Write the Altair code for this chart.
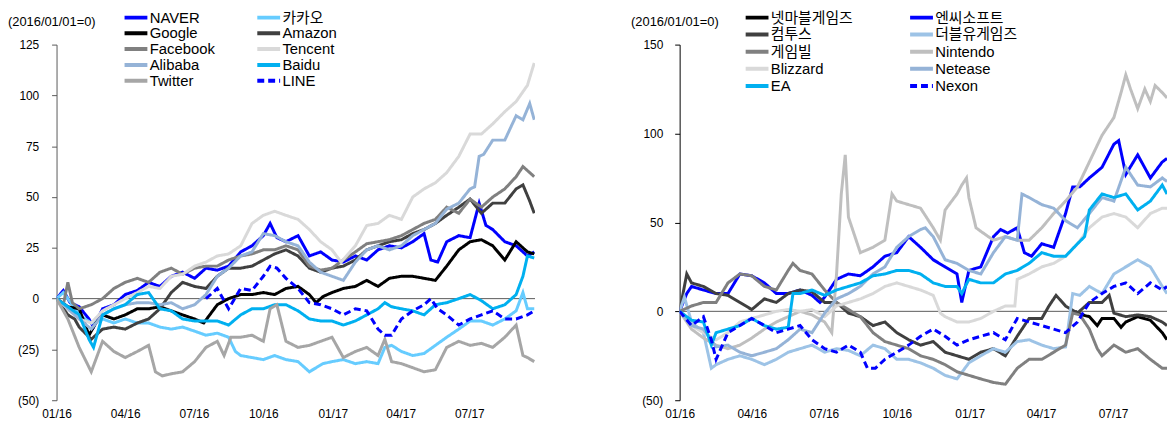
import altair as alt
import pandas as pd

FONT = "'Liberation Sans', Arial, 'Noto Sans CJK KR', sans-serif"
BASE = pd.Timestamp("2016-01-01")

# ---------------- Left panel (internet) : [months since 2016-01-01, index value]
NAVER = [[0,0],[0.3,4],[0.6,-2],[1,-4],[1.4,-10],[1.6,-14],[2,-5],[2.5,-3],[3,2],[3.5,4],[4,8],[4.5,6],[5,11],[5.5,13],[6,10],[6.5,15],[7,14],[7.5,16],[8,23],[8.5,26],[9,31],[9.3,37],[9.6,30],[10,28],[10.5,31],[11,21],[11.5,23],[12,19],[12.5,18],[13,21],[13.5,19],[14,24],[14.5,26],[15,25],[15.5,28],[16,32],[16.3,19],[16.6,18],[17,28],[17.5,31],[18,30],[18.4,47],[18.7,36],[19,34],[19.5,28],[20,26],[20.5,21],[20.8,23]]
KAKAO = [[0,0],[0.3,3],[0.7,-3],[1,-8],[1.5,-12],[2,-10],[2.5,-12],[3,-10],[3.5,-12],[4,-12],[4.5,-14],[5,-15],[5.5,-14],[6,-16],[6.5,-18],[7,-17],[7.5,-19],[7.8,-26],[8,-28],[8.5,-29],[9,-30],[9.5,-28],[10,-30],[10.5,-31],[11,-36],[11.3,-34],[11.6,-32],[12,-31],[12.5,-30],[13,-32],[13.5,-31],[14,-32],[14.3,-24],[14.6,-23],[15,-26],[15.5,-28],[16,-27],[16.5,-23],[17,-19],[17.5,-15],[18,-11],[18.5,-11],[19,-13],[19.5,-10],[20,-6],[20.3,3],[20.5,-5],[20.8,-5]]
GOOGLE = [[0,0],[0.5,-4],[1,-5],[1.4,-18],[1.7,-12],[2,-8],[2.5,-10],[3,-8],[3.5,-5],[4,-5],[4.5,-4],[5,-6],[5.5,-8],[6,-10],[6.4,-12],[7,-3],[7.5,0],[8,2],[8.5,2],[9,3],[9.5,2],[10,5],[10.5,6],[11,2],[11.3,-2],[11.6,1],[12,3],[12.5,5],[13,6],[13.5,9],[14,6],[14.5,10],[15,11],[15.5,11],[16,10],[16.5,9],[17,16],[17.5,24],[18,28],[18.5,29],[19,26],[19.5,19],[20,28],[20.5,23],[20.8,22]]
AMAZON = [[0,0],[0.5,-8],[0.8,-10],[1,-14],[1.5,-20],[2,-15],[2.5,-14],[3,-15],[3.5,-12],[4,-10],[4.5,-5],[5,3],[5.5,8],[6,6],[6.5,5],[7,11],[7.5,15],[8,15],[8.5,16],[9,19],[9.5,22],[10,24],[10.5,21],[11,15],[11.5,13],[12,15],[12.5,16],[13,19],[13.5,24],[14,26],[14.5,28],[15,29],[15.5,32],[16,34],[16.5,37],[17,41],[17.5,45],[18,49],[18.5,42],[19,47],[19.5,47],[20,54],[20.3,56],[20.6,48],[20.8,42]]
FACEBOOK = [[0,0],[0.3,-3],[0.5,8],[0.7,-2],[1,-5],[1.5,-3],[2,0],[2.5,5],[3,8],[3.5,10],[4,8],[4.5,13],[5,15],[5.5,12],[6,15],[6.5,16],[7,16],[7.5,19],[8,21],[8.5,22],[9,24],[9.5,24],[10,26],[10.5,24],[11,16],[11.5,14],[12,15],[12.5,19],[13,23],[13.5,27],[14,28],[14.5,29],[15,31],[15.5,34],[16,37],[16.5,39],[17,45],[17.5,42],[18,49],[18.5,45],[19,50],[19.5,54],[20,60],[20.3,65],[20.6,62],[20.8,60]]
TENCENT = [[0,0],[0.5,-5],[1,-10],[1.5,-12],[2,-6],[2.5,-3],[3,0],[3.5,3],[4,6],[4.5,5],[5,11],[5.5,12],[6,16],[6.5,18],[7,21],[7.5,22],[8,26],[8.5,37],[9,41],[9.5,43],[10,41],[10.5,39],[11,34],[11.5,28],[12,24],[12.4,18],[13,26],[13.5,36],[14,37],[14.5,41],[15,39],[15.5,50],[16,54],[16.5,57],[17,62],[17.5,70],[18,81],[18.5,81],[19,86],[19.5,92],[20,97],[20.5,105],[20.8,116]]
ALIBABA = [[0,0],[0.5,-5],[1,-10],[1.5,-15],[2,-8],[2.5,-5],[3,-3],[3.5,-2],[4,-2],[4.5,-3],[5,-2],[5.5,-5],[6,-3],[6.5,2],[7,11],[7.5,15],[8,21],[8.5,23],[9,32],[9.5,31],[10,28],[10.5,26],[11,18],[11.5,13],[12,11],[12.5,9],[13,18],[13.5,24],[14,26],[14.5,24],[15,26],[15.5,31],[16,34],[16.5,37],[17,44],[17.5,47],[18,54],[18.2,55],[18.4,70],[18.6,71],[19,78],[19.5,78],[20,90],[20.3,88],[20.6,96],[20.8,88]]
BAIDU = [[0,0],[0.5,-4],[1,-8],[1.4,-20],[1.6,-24],[2,-8],[2.5,-5],[3,-3],[3.5,2],[4,3],[4.5,-5],[5,-6],[5.5,-10],[6,-11],[6.5,-11],[7,-11],[7.5,-13],[8,-8],[8.5,-5],[9,-5],[9.5,-3],[10,-3],[10.5,-6],[11,-10],[11.5,-11],[12,-11],[12.5,-13],[13,-11],[13.5,-8],[14,-5],[14.3,-2],[14.6,-4],[15,-5],[15.5,-6],[16,-8],[16.5,-3],[17,-2],[17.5,0],[18,2],[18.5,-1],[19,-5],[19.5,-3],[20,2],[20.3,11],[20.5,21],[20.8,20]]
TWITTER = [[0,0],[0.5,-10],[1,-24],[1.5,-36],[2,-21],[2.5,-26],[3,-29],[3.5,-26],[4,-23],[4.3,-36],[4.6,-38],[5,-37],[5.5,-36],[6,-31],[6.5,-24],[7,-21],[7.3,-28],[7.6,-19],[8,-19],[8.5,-18],[9,-21],[9.3,-5],[9.6,-3],[10,-21],[10.5,-24],[11,-23],[11.5,-21],[12,-19],[12.5,-29],[13,-26],[13.5,-24],[14,-28],[14.3,-20],[14.6,-31],[15,-32],[15.5,-34],[16,-36],[16.5,-35],[17,-24],[17.5,-21],[18,-23],[18.5,-22],[19,-24],[19.5,-19],[20,-13],[20.3,-28],[20.5,-29],[20.8,-31]]
LINE = [[6.5,0],[6.8,3],[7,5],[7.5,-5],[8,5],[8.5,4],[9,11],[9.3,16],[9.6,15],[10,10],[10.5,5],[11,-2],[11.5,-3],[12,-5],[12.5,-8],[13,-5],[13.5,-6],[14,-15],[14.3,-18],[14.6,-18],[15,-10],[15.5,-6],[16,-3],[16.3,0],[16.6,-5],[17,-8],[17.5,-13],[18,-10],[18.5,-8],[19,-6],[19.5,-10],[20,-10],[20.5,-8],[20.8,-6]]

LEFT_NAMES = ["NAVER", "카카오", "Google", "Amazon", "Facebook", "Tencent", "Alibaba", "Baidu", "Twitter", "LINE"]
LEFT_VALUES = [NAVER, KAKAO, GOOGLE, AMAZON, FACEBOOK, TENCENT, ALIBABA, BAIDU, TWITTER, LINE]
LEFT_COLORS = ["#0000FF", "#66CCFF", "#000000", "#404040", "#808080", "#D9D9D9", "#95B3D7", "#00B0F0", "#A6A6A6", "#0000FF"]

# ---------------- Right panel (games)
NETMARBLE = [[16.4,0],[16.7,-2],[17,-3],[17.3,-8],[17.5,-4],[18,-4],[18.3,-9],[18.5,-6],[19,-3],[19.5,-5],[20,-12],[20.2,-16]]
NCSOFT = [[0,0],[0.3,10],[0.5,14],[1,12],[1.5,10],[2,10],[2.5,21],[3,20],[3.5,16],[4,10],[4.5,10],[5,12],[5.5,9],[5.8,5],[6,8],[6.5,18],[7,21],[7.5,20],[8,25],[8.5,31],[9,33],[9.5,42],[10,36],[10.5,29],[11,25],[11.5,21],[11.7,5],[12,23],[12.5,25],[13,42],[13.3,46],[13.6,44],[14,47],[14.3,33],[14.6,31],[15,38],[15.5,36],[16,55],[16.3,70],[16.6,70],[17,75],[17.5,81],[18,94],[18.2,96],[18.5,77],[19,88],[19.5,75],[20,84],[20.2,86]]
COM2US = [[0,0],[0.3,21],[0.5,16],[1,14],[1.5,10],[2,9],[2.5,5],[3,1],[3.5,7],[4,5],[4.5,10],[5,12],[5.5,11],[6,5],[6.5,5],[7,-1],[7.5,-3],[8,-8],[8.5,-6],[9,-12],[9.5,-16],[10,-19],[10.5,-17],[11,-23],[11.5,-25],[12,-27],[12.5,-23],[13,-21],[13.5,-25],[14,-14],[14.5,-4],[15,-4],[15.3,3],[15.6,9],[16,3],[16.5,-1],[17,5],[17.5,5],[17.8,9],[18,-1],[18.5,-3],[19,-2],[19.5,-3],[20,-6],[20.2,-8]]
DOUBLEU = [[0,0],[0.2,8],[0.5,-6],[1,-12],[1.3,-32],[1.5,-30],[2,-27],[2.5,-25],[3,-27],[3.5,-30],[4,-27],[4.5,-23],[5,-21],[5.5,-19],[6,-23],[6.5,-21],[7,-22],[7.5,-25],[8,-19],[8.5,-21],[9,-27],[9.5,-27],[10,-29],[10.5,-32],[11,-36],[11.5,-38],[12,-29],[12.5,-25],[13,-21],[13.5,-23],[14,-17],[14.5,-16],[15,-19],[15.5,-21],[16,-20],[16.3,10],[16.6,9],[17,14],[17.5,10],[18,21],[18.5,25],[19,29],[19.5,25],[20,14],[20.2,10]]
GAMEVIL = [[0,0],[0.5,3],[1,5],[1.5,5],[2,16],[2.5,21],[3,20],[3.5,14],[4,12],[4.5,23],[4.7,27],[5,23],[5.5,21],[6,12],[6.5,5],[7,1],[7.5,-3],[8,-12],[8.5,-17],[9,-19],[9.5,-21],[10,-25],[10.5,-27],[11,-30],[11.5,-34],[12,-36],[12.5,-38],[13,-40],[13.5,-41],[14,-32],[14.5,-27],[15,-27],[15.5,-23],[16,-19],[16.3,-1],[16.6,-2],[17,-10],[17.3,-21],[17.5,-25],[18,-19],[18.5,-23],[19,-21],[19.5,-27],[20,-32],[20.2,-32]]
NINTENDO = [[0,0],[0.5,-10],[1,-15],[1.5,-19],[2,-21],[2.5,-19],[3,-15],[3.5,-10],[4,-6],[4.5,-3],[5,0],[5.5,-2],[6,-6],[6.3,-12],[6.5,21],[6.7,66],[6.85,88],[7,53],[7.5,33],[8,36],[8.5,40],[8.8,66],[9,62],[9.5,60],[10,58],[10.5,47],[10.8,40],[11,57],[11.5,66],[11.7,71],[11.9,75],[12,64],[12.3,47],[12.5,45],[13,40],[13.5,42],[14,40],[14.5,40],[15,47],[15.5,55],[16,62],[16.5,70],[17,84],[17.5,99],[18,109],[18.3,123],[18.5,133],[18.7,125],[19,114],[19.3,125],[19.5,118],[19.7,127],[20,123],[20.2,120]]
BLIZZARD = [[0,0],[0.5,-8],[1,-12],[1.5,-16],[2,-12],[2.5,-6],[3,-4],[3.5,-2],[4,0],[4.5,1],[5,0],[5.5,1],[6,-3],[6.5,3],[7,5],[7.5,7],[8,10],[8.5,14],[9,16],[9.5,14],[10,12],[10.5,9],[10.8,-1],[11,-3],[11.5,-6],[12,-6],[12.5,-4],[13,0],[13.5,3],[13.9,3],[14,18],[14.5,21],[15,25],[15.5,27],[16,31],[16.5,38],[17,47],[17.5,53],[18,55],[18.5,53],[19,47],[19.5,55],[20,58],[20.2,58]]
NETEASE = [[0,0],[0.5,-8],[1,-10],[1.5,-20],[2,-19],[2.5,-23],[3,-25],[3.5,-23],[4,-21],[4.5,-16],[5,-10],[5.5,-12],[6,-1],[6.5,7],[7,10],[7.5,14],[8,21],[8.5,25],[9,36],[9.5,42],[10,46],[10.2,47],[10.5,42],[11,29],[11.5,27],[12,23],[12.5,21],[13,33],[13.5,42],[14,40],[14.2,66],[14.5,64],[15,60],[15.5,58],[16,51],[16.5,47],[17,55],[17.5,64],[18,62],[18.5,81],[19,71],[19.5,70],[20,75],[20.2,73]]
EA = [[0,0],[0.5,-5],[1,-6],[1.3,-19],[1.5,-12],[2,-10],[2.5,-8],[3,-4],[3.5,-8],[4,-10],[4.5,-9],[4.7,10],[5,10],[5.5,12],[6,9],[6.5,12],[7,14],[7.5,16],[8,20],[8.5,21],[9,23],[9.5,23],[10,21],[10.5,16],[11,14],[11.5,14],[11.7,10],[12,18],[12.5,16],[13,16],[13.5,21],[14,23],[14.5,27],[15,33],[15.5,31],[16,31],[16.5,38],[16.8,42],[17,57],[17.5,66],[18,64],[18.5,66],[19,57],[19.5,62],[20,71],[20.2,66]]
NEXON = [[0,0],[0.5,-8],[1,-3],[1.3,-16],[1.5,-27],[2,-12],[2.5,-8],[3,-4],[3.5,-8],[4,-12],[4.5,-10],[5,-8],[5.5,-16],[6,-21],[6.5,-23],[7,-19],[7.5,-23],[7.8,-32],[8.1,-32],[8.5,-27],[9,-23],[9.5,-19],[10,-14],[10.5,-10],[11,-14],[11.5,-19],[12,-16],[12.5,-14],[13,-12],[13.5,-16],[14,-4],[14.5,-6],[15,-8],[15.5,-10],[16,-12],[16.5,-6],[17,5],[17.5,10],[18,14],[18.5,16],[19,10],[19.5,16],[20,12],[20.2,14]]

RIGHT_NAMES = ["넷마블게임즈", "엔씨소프트", "컴투스", "더블유게임즈", "게임빌", "Nintendo", "Blizzard", "Netease", "EA", "Nexon"]
RIGHT_VALUES = [NETMARBLE, NCSOFT, COM2US, DOUBLEU, GAMEVIL, NINTENDO, BLIZZARD, NETEASE, EA, NEXON]
RIGHT_COLORS = ["#000000", "#0000FF", "#404040", "#9DC3E6", "#808080", "#BFBFBF", "#D9D9D9", "#95B3D7", "#00B0F0", "#0000FF"]

SOLID = [1, 0]
DASH = [7, 4]
QUARTERS = ["2016-01-01", "2016-04-01", "2016-07-01", "2016-10-01", "2017-01-01", "2017-04-01", "2017-07-01"]
LEGEND_SYMBOL = "M-1,0H5"


def frame(names, values):
    rows = []
    for n, vals in zip(names, values):
        for m, v in vals:
            rows.append({"series": n, "date": (BASE + pd.Timedelta(days=round(m * 30.44))).strftime("%Y-%m-%d"), "value": v})
    return pd.DataFrame(rows)


def dt(s):
    t = pd.Timestamp(s)
    return alt.DateTime(year=t.year, month=t.month, date=t.day)


def panel(names, values, colors, xend, ymin, ymax, ystep, width, legend_x, col_pad, row_pad, label_pad, axis_color):
    df = frame(names, values)
    dashes = [DASH if n in ("LINE", "Nexon") else SOLID for n in names]
    legend = alt.Legend(
        title=None, orient="none", legendX=legend_x, legendY=-35, columns=2, direction="horizontal",
        columnPadding=col_pad, rowPadding=row_pad, padding=0,
        symbolType=LEGEND_SYMBOL, symbolStrokeWidth=4, symbolSize=59,
        labelFontSize=15, labelFont=FONT, labelColor="#000000", labelOffset=14, labelLimit=300,
    )
    x = alt.X(
        "date:T",
        scale=alt.Scale(domain=[dt("2016-01-01"), dt(xend)]),
        axis=alt.Axis(values=[dt(q) for q in QUARTERS], format="%m/%y", title=None, grid=False,
                      domain=False, ticks=False, labelPadding=8, labelFontSize=12,
                      labelFont=FONT, labelColor="#000000", labelFlush=False),
    )
    y = alt.Y(
        "value:Q",
        scale=alt.Scale(domain=[ymin, ymax], nice=False, zero=False),
        axis=alt.Axis(values=list(range(ymin, ymax + 1, ystep)), title=None, grid=False,
                      domainColor=axis_color, tickColor=axis_color, tickSize=5,
                      labelPadding=label_pad, labelFontSize=12, labelFont=FONT, labelColor="#000000",
                      labelExpr="datum.value < 0 ? '(' + (-datum.value) + ')' : '' + datum.value"),
    )
    zero = alt.Chart(pd.DataFrame({"z": [0]})).mark_rule(color="#595959", strokeWidth=1).encode(y="z:Q")
    lines = alt.Chart(df).mark_line(strokeWidth=3, clip=True).encode(
        x=x, y=y,
        color=alt.Color("series:N", scale=alt.Scale(domain=names, range=colors), legend=legend),
        strokeDash=alt.StrokeDash("series:N", scale=alt.Scale(domain=names, range=dashes), legend=legend),
    )
    return alt.layer(zero, lines).properties(
        width=width, height=359,
        title=alt.TitleParams("(2016/01/01=0)", anchor="start", frame="group", dx=-49, offset=-19,
                              fontSize=13, font=FONT, fontWeight="normal", color="#000000"),
    )


left = panel(LEFT_NAMES, LEFT_VALUES, LEFT_COLORS, "2017-09-26", -50, 125, 25, 483, 65, 34, -1.2, 13, "#595959")
right = panel(RIGHT_NAMES, RIGHT_VALUES, RIGHT_COLORS, "2017-09-07", -50, 150, 50, 492, 63, 49, 0.3, 12, "#000000")

chart = alt.hconcat(left, right, spacing=96).resolve_scale(
    color="independent", strokeDash="independent", y="independent", x="independent"
).resolve_legend(color="independent", strokeDash="independent").properties(
    padding={"left": 0, "top": 0, "right": 0, "bottom": 0}
).configure_view(strokeWidth=0)

chart.save("out.html", embed_options={"renderer": "svg", "actions": False})
